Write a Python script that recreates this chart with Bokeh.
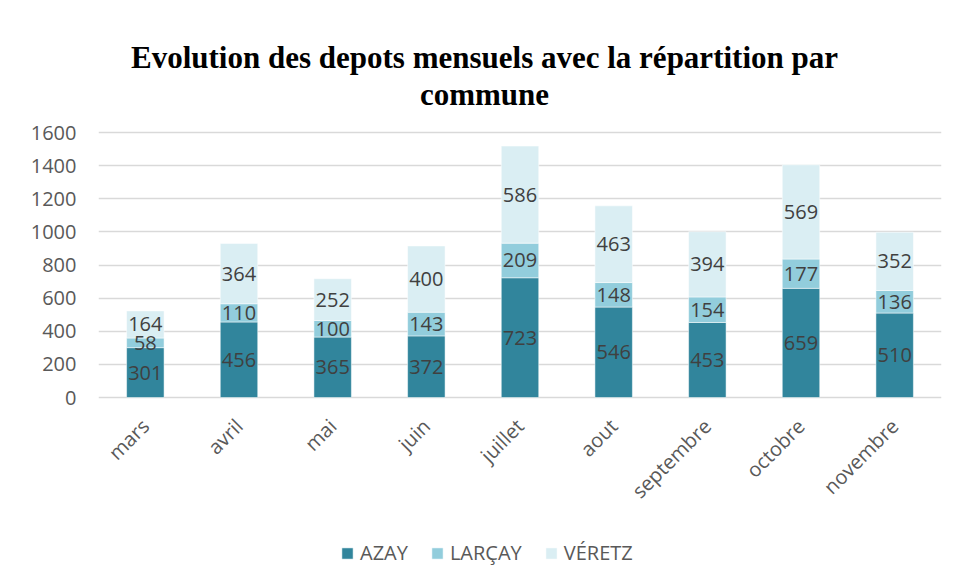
import numpy as np
from bokeh.plotting import figure
from bokeh.models import ColumnDataSource, Label, Legend, LegendItem, FixedTicker, Range1d, FactorRange
from bokeh.core.properties import value
from bokeh.embed import file_html
from bokeh.resources import INLINE

months = ["mars", "avril", "mai", "juin", "juillet", "aout", "septembre", "octobre", "novembre"]
azay = [301, 456, 365, 372, 723, 546, 453, 659, 510]
larcay = [58, 110, 100, 143, 209, 148, 154, 177, 136]
veretz = [164, 364, 252, 400, 586, 463, 394, 569, 352]
series_names = ["AZAY", "LARÇAY", "VÉRETZ"]
colors = ["#31859C", "#92CDDC", "#DAEEF3"]
y_ticks = [0, 200, 400, 600, 800, 1000, 1200, 1400, 1600]
title_line1 = "Evolution des depots mensuels avec la répartition par"
title_line2 = "commune"

FONT = "Open Sans"

# layout (pixels)
W, H = 957, 580
LEFT, RIGHT = 98, 16
PX_TOP, PX_ZERO = 132, 397          # pixel rows of 1600 and 0
YMAX_TICK = y_ticks[-1]
upp = YMAX_TICK / (PX_ZERO - PX_TOP)  # data units per pixel
y_hi = YMAX_TICK + PX_TOP * upp
y_lo = -(H - PX_ZERO) * upp

p = figure(x_range=FactorRange(*months), y_range=Range1d(y_lo, y_hi),
           frame_width=W - LEFT - RIGHT, frame_height=H, output_backend="svg", toolbar_location=None,
           min_border_left=LEFT, min_border_right=RIGHT, min_border_top=0, min_border_bottom=0)
p.outline_line_color = None
p.background_fill_color = "white"
p.border_fill_color = "white"

a = np.array(azay, dtype=float)
l = np.array(larcay, dtype=float)
v = np.array(veretz, dtype=float)
b1 = a
b2 = a + l
b3 = a + l + v

src = ColumnDataSource(dict(m=months,
                            a0=np.zeros(len(months)), a1=b1, l1=b2, v1=b3,
                            am=b1 / 2, lm=(b1 + b2) / 2, vm=(b2 + b3) / 2,
                            at=[str(x) for x in azay], lt=[str(x) for x in larcay], vt=[str(x) for x in veretz],
                            lab_y=np.full(len(months), -25 * upp)))

r1 = p.vbar(x="m", bottom="a0", top="a1", width=0.4, source=src, fill_color=colors[0], line_color="white", line_width=0.5)
r2 = p.vbar(x="m", bottom="a1", top="l1", width=0.4, source=src, fill_color=colors[1], line_color="white", line_width=0.5)
r3 = p.vbar(x="m", bottom="l1", top="v1", width=0.4, source=src, fill_color=colors[2], line_color="white", line_width=0.5)

for ycol, tcol in [("am", "at"), ("lm", "lt"), ("vm", "vt")]:
    p.text(x="m", y=ycol, text=tcol, source=src, text_align="center", text_baseline="middle",
           text_font=value(FONT), text_font_size="20px", text_color="#404040")

# category labels, rotated 45 degrees
p.text(x="m", y="lab_y", text="m", source=src, angle=np.pi / 4, text_align="right", text_baseline="middle",
       text_font=value(FONT), text_font_size="20px", text_color="#595959")

p.xaxis.visible = False
p.yaxis.ticker = FixedTicker(ticks=y_ticks)
p.yaxis.axis_line_color = None
p.yaxis.major_tick_line_color = None
p.yaxis.minor_tick_line_color = None
p.yaxis.major_tick_out = 0
p.yaxis.major_tick_in = 0
p.yaxis.major_label_text_font = FONT
p.yaxis.major_label_text_font_size = "20px"
p.yaxis.major_label_text_color = "#595959"
p.yaxis.major_label_standoff = 22

p.xgrid.grid_line_color = None
p.ygrid.ticker = FixedTicker(ticks=y_ticks)
p.ygrid.grid_line_color = "#d9d9d9"
p.ygrid.grid_line_width = 1.3

# title, two centred lines
title_x = (484 - LEFT) / (W - LEFT - RIGHT) * len(months)
for txt, base_px in [(title_line1, 57), (title_line2, 94)]:
    p.add_layout(Label(x=title_x, y=(PX_ZERO - base_px) * upp, text=txt, text_align="center",
                       text_baseline="alphabetic", text_font="Liberation Serif", text_font_size="31px",
                       text_font_style="bold", text_color="black"))

legend = Legend(items=[LegendItem(label=series_names[0], renderers=[r1]),
                       LegendItem(label=series_names[1], renderers=[r2]),
                       LegendItem(label=series_names[2], renderers=[r3])],
                orientation="horizontal", location=(242, 14),
                label_text_font=FONT, label_text_font_size="20px", label_text_color="#595959",
                glyph_width=14, glyph_height=14, spacing=22, label_standoff=6, padding=5, margin=0,
                border_line_color=None, background_fill_alpha=0)
p.add_layout(legend, "center")

open("out.html", "w").write(file_html(p, INLINE))
